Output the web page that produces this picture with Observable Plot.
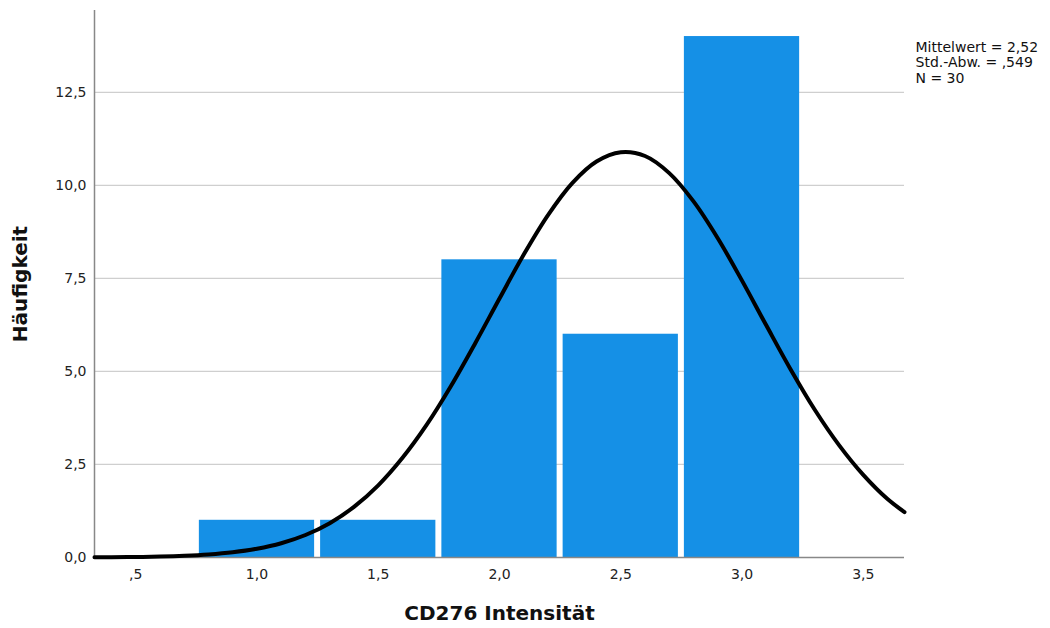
<!DOCTYPE html>
<html>
<head>
<meta charset="utf-8">
<script src="https://cdn.jsdelivr.net/npm/d3@7"></script>
<script src="https://cdn.jsdelivr.net/npm/@observablehq/plot@0.6"></script>
<style>
  html, body { margin: 0; padding: 0; background: #fff; }
  #chart { width: 1050px; height: 628px; }
</style>
</head>
<body>
<div id="chart"></div>
<script>
// Histogram bins (centres, width 0.5) and counts
const binCenters = [1.0, 1.5, 2.0, 2.5, 3.0];
const counts = [1, 1, 8, 6, 14];
const binWidth = 0.5;

// Normal curve
const curveX = [0.33, 0.4, 0.5, 0.6, 0.7, 0.8, 0.9, 1.0, 1.1, 1.2, 1.3, 1.4, 1.5, 1.6, 1.7, 1.8, 1.9, 2.0, 2.1, 2.2, 2.3, 2.4, 2.5, 2.6, 2.7, 2.8, 2.9, 3.0, 3.1, 3.2, 3.3, 3.4, 3.5, 3.6, 3.67];
const curveY = [0.004, 0.006, 0.013, 0.024, 0.045, 0.081, 0.14, 0.236, 0.384, 0.605, 0.923, 1.36, 1.94, 2.68, 3.57, 4.61, 5.76, 6.96, 8.14, 9.2, 10.06, 10.64, 10.89, 10.79, 10.33, 9.57, 8.58, 7.44, 6.24, 5.06, 3.97, 3.02, 2.22, 1.57, 1.22];

// Tick values and labels
const xTicks = [0.5, 1.0, 1.5, 2.0, 2.5, 3.0, 3.5];
const xTickLabels = [",5", "1,0", "1,5", "2,0", "2,5", "3,0", "3,5"];
const yTicks = [0, 2.5, 5, 7.5, 10, 12.5];
const yTickLabels = ["0,0", "2,5", "5,0", "7,5", "10,0", "12,5"];
const gridTicks = [2.5, 5, 7.5, 10, 12.5];

const xTitle = "CD276 Intensität";
const yTitle = "Häufigkeit";
const statsText = "Mittelwert = 2,52\nStd.-Abw. = ,549\nN = 30";

const bars = binCenters.map((c, i) => ({x1: c - binWidth / 2, x2: c + binWidth / 2, y: counts[i]}));
const curve = curveX.map((x, i) => ({x, y: curveY[i]}));

const font = "'DejaVu Sans', sans-serif";

const chart = Plot.plot({
  width: 1050,
  height: 628,
  marginLeft: 94,
  marginRight: 146,
  marginTop: 10,
  marginBottom: 71,
  style: {fontFamily: font, background: "#fff"},
  x: {domain: [0.33, 3.67]},
  y: {domain: [0, 14.7]},
  marks: [
    Plot.ruleY(gridTicks, {stroke: "#cfcfcf", strokeWidth: 1.3}),
    Plot.rectY(bars, {x1: "x1", x2: "x2", y: "y", fill: "#1590e6", insetLeft: 3, insetRight: 3}),
    Plot.axisX({ticks: xTicks, tickSize: 0, tickPadding: 12, fontSize: 14, fill: "#222",
      tickFormat: (d) => xTickLabels[xTicks.indexOf(d)], label: null}),
    Plot.axisY({ticks: yTicks, tickSize: 0, tickPadding: 8, fontSize: 14, fill: "#222",
      tickFormat: (d) => yTickLabels[yTicks.indexOf(d)], label: null}),
    Plot.ruleY([0], {stroke: "#888", strokeWidth: 1.5}),
    Plot.ruleX([0.33], {stroke: "#888", strokeWidth: 1.5}),
    Plot.line(curve, {x: "x", y: "y", stroke: "#000", strokeWidth: 4, curve: "catmull-rom"}),
    Plot.text([xTitle], {frameAnchor: "bottom", dy: 56, textAnchor: "middle", lineAnchor: "middle", fontSize: 20, fontWeight: "bold", fill: "#111"}),
    Plot.text([yTitle], {frameAnchor: "left", dx: -74, rotate: -90, textAnchor: "middle", lineAnchor: "middle", fontSize: 20, fontWeight: "bold", fill: "#111"}),
    Plot.text([statsText], {frameAnchor: "top-right", dx: 11, dy: 30, textAnchor: "start", lineAnchor: "top", fontSize: 14, lineHeight: 1.12, fill: "#111"})
  ]
});
document.getElementById("chart").appendChild(chart);
</script>
</body>
</html>
